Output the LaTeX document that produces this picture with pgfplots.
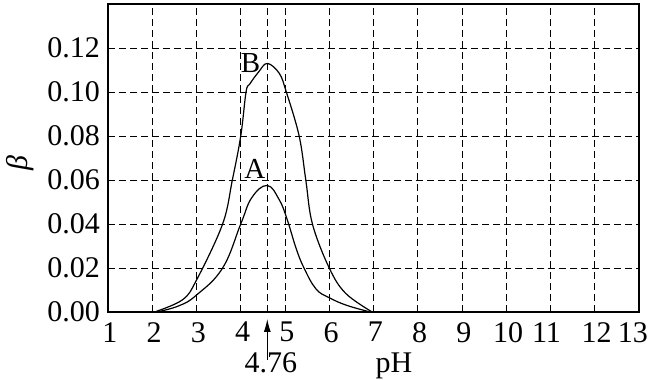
\documentclass[border=0pt]{standalone}
\usepackage{fontspec}
\setmainfont{Liberation Serif}
\usepackage{pgfplots}
\usetikzlibrary{arrows.meta}
\pgfplotsset{compat=1.18}
\begin{document}
\fontsize{30}{34}\selectfont
\begin{tikzpicture}
\useasboundingbox (-108pt,-68pt) rectangle (541pt,312pt);
\begin{axis}[
  scale only axis, width=531pt, height=308pt,
  at={(0,0)}, anchor=south west,
  xmin=1, xmax=13, ymin=0, ymax=0.14,
  xtick={1,...,13},
  xticklabels={1,2,3,4,5,6,7,8,9,10,\makebox[0pt]{\hspace{-12pt}11},12,\makebox[0pt]{\hspace{-16pt}13}},
  ytick={0,0.02,0.04,0.06,0.08,0.10,0.12},
  yticklabels={0.00,0.02,0.04,0.06,0.08,0.10,0.12},
  scaled y ticks=false,
  major tick length=0pt,
  axis line style={line width=1.1pt},
  grid=major,
  major grid style={black, line width=0.8pt, dash pattern=on 7pt off 4pt},
  /pgf/number format/assume math mode=true,
  tick label style={font=\fontsize{30}{34}\selectfont},
  yticklabel style={anchor=east, inner sep=0pt, xshift=-8pt},
  xticklabel style={anchor=north, inner sep=0pt, yshift=-10pt, xshift=2pt},
  ylabel={\itshape β},
  ylabel style={at={(axis description cs:-0.1657,0.484)}, anchor=center, font=\fontsize{30}{34}\selectfont},
  clip=false,
]
\addplot[black, line width=0.8pt, dash pattern=on 7pt off 4pt] coordinates {(4.6,0) (4.6,0.14)};
% curve B
\addplot[black, line width=1.2pt, smooth, tension=0.6] coordinates {
(2.05,0) (2.68,0.0055) (3.0,0.0145) (3.59,0.040) (3.81,0.060) (4.0,0.080) (4.12,0.100) (4.2,0.1035) (4.4,0.109) (4.6,0.113) (4.87,0.1085) (5.03,0.100) (5.32,0.080) (5.47,0.060) (5.62,0.040) (6.0,0.020) (6.37,0.0085) (6.97,0)};
% curve A
\addplot[black, line width=1.2pt, smooth, tension=0.7] coordinates {
(2.1,0) (2.6,0.0028) (3.0,0.0077) (3.59,0.020) (4.0,0.040) (4.25,0.052) (4.6,0.0575) (4.87,0.051) (5.05,0.042) (5.25,0.029) (5.43,0.020) (5.7,0.0105) (6.0,0.0065) (6.4,0.003) (6.93,0)};
\node[font=\fontsize{29}{33}\selectfont] at (axis cs:4.22,0.113) {B};
\node[font=\fontsize{29}{33}\selectfont] at (axis cs:4.32,0.065) {A};
\draw[-{Latex[length=13pt,width=7pt]}, line width=1pt] ([yshift=-48pt]axis cs:4.6,0) -- ([yshift=-7pt]axis cs:4.6,0);
\node[anchor=base, inner sep=0pt, font=\fontsize{30}{34}\selectfont] at (axis cs:4.68,0) [yshift=-61pt] {4.76};
\node[anchor=base, inner sep=0pt, font=\fontsize{30}{34}\selectfont] at (axis cs:7.46,0) [yshift=-61pt] {pH};
\end{axis}
\end{tikzpicture}
\end{document}
